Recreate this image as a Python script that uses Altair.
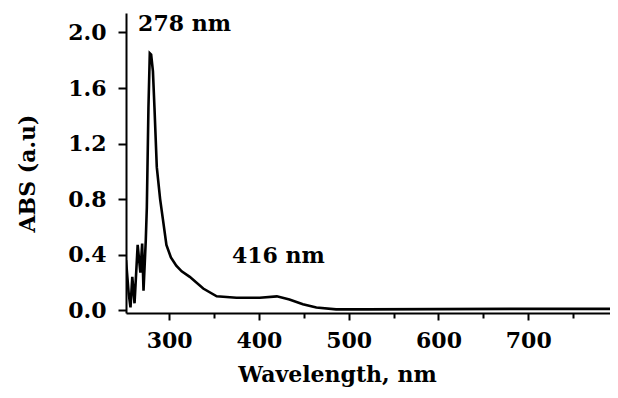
import altair as alt
import pandas as pd

# UV-Vis spectrum
wavelength = [252, 255, 257, 259, 261.5, 265, 268, 270, 271.5, 274, 275.2, 277, 278.5, 280,
              282, 283.7, 286.3, 290, 293, 297, 302, 308, 314, 323, 338, 353, 375, 401,
              420, 434, 449, 464, 486, 520, 600, 700, 800]
absorbance = [0.36, 0.12, 0.02, 0.24, 0.05, 0.47, 0.27, 0.48, 0.14, 0.50, 0.74, 1.46, 1.85, 1.84,
              1.72, 1.46, 1.03, 0.80, 0.66, 0.47, 0.38, 0.32, 0.28, 0.24, 0.156, 0.10, 0.09, 0.09,
              0.10, 0.077, 0.043, 0.02, 0.006, 0.006, 0.008, 0.01, 0.01]

label_text = ["278 nm", "416 nm"]
label_x = [265.5, 370]
label_y = [2.01, 0.34]

x_ticks = [300, 350, 400, 450, 500, 550, 600, 650, 700, 750]
y_ticks = [0.0, 0.2, 0.4, 0.6, 0.8, 1.0, 1.2, 1.4, 1.6, 1.8, 2.0]

FONT = "DejaVu Serif"

df = pd.DataFrame({"wl": wavelength, "abs": absorbance})
lab = pd.DataFrame({"t": label_text, "x": label_x, "y": label_y})

xscale = alt.Scale(domain=[252, 791], nice=False, zero=False)
yscale = alt.Scale(domain=[-0.02, 2.14], nice=False, zero=False)

line = alt.Chart(df).mark_line(color="black", strokeWidth=2.6, clip=True).encode(
    x=alt.X("wl:Q", scale=xscale, title="Wavelength, nm",
            axis=alt.Axis(values=x_ticks,
                          labelExpr="datum.value % 100 == 0 ? datum.label : ''",
                          tickSize={"condition": {"test": "datum.value % 100 == 0", "value": 7}, "value": 5},
                          grid=False, domainColor="black", domainWidth=2, tickColor="black", tickWidth=2,
                          labelFont=FONT, labelFontSize=22, labelFontWeight="bold", labelColor="black",
                          labelPadding=10, titleFont=FONT, titleFontSize=22, titleFontWeight="bold",
                          titleColor="black", titlePadding=13, titleX=211, labelFlush=False)),
    y=alt.Y("abs:Q", scale=yscale, title="ABS (a.u)",
            axis=alt.Axis(values=y_ticks,
                          labelExpr="round(datum.value*10) % 4 == 0 ? format(datum.value, '.1f') : ''",
                          tickSize={"condition": {"test": "round(datum.value*10) % 4 == 0", "value": 8}, "value": 5},
                          grid=False, domainColor="black", domainWidth=2, tickColor="black", tickWidth=2,
                          labelFont=FONT, labelFontSize=22, labelFontWeight="bold", labelColor="black",
                          labelPadding=12, titleFont=FONT, titleFontSize=22, titleFontWeight="bold",
                          titleColor="black", titlePadding=28, titleY=160, labelFlush=False)),
)

text = alt.Chart(lab).mark_text(font=FONT, fontSize=22, fontWeight="bold", color="black",
                                 align="left", baseline="alphabetic").encode(
    x=alt.X("x:Q", scale=xscale), y=alt.Y("y:Q", scale=yscale), text="t:N")

chart = (line + text).properties(
    width=484, height=300,
    padding={"left": 118, "top": 5, "right": 0, "bottom": 77},
    autosize="none",
).configure(background="white").configure_view(strokeWidth=0, stroke="transparent")

chart.save("out.html", embed_options={"renderer": "svg", "actions": False})
